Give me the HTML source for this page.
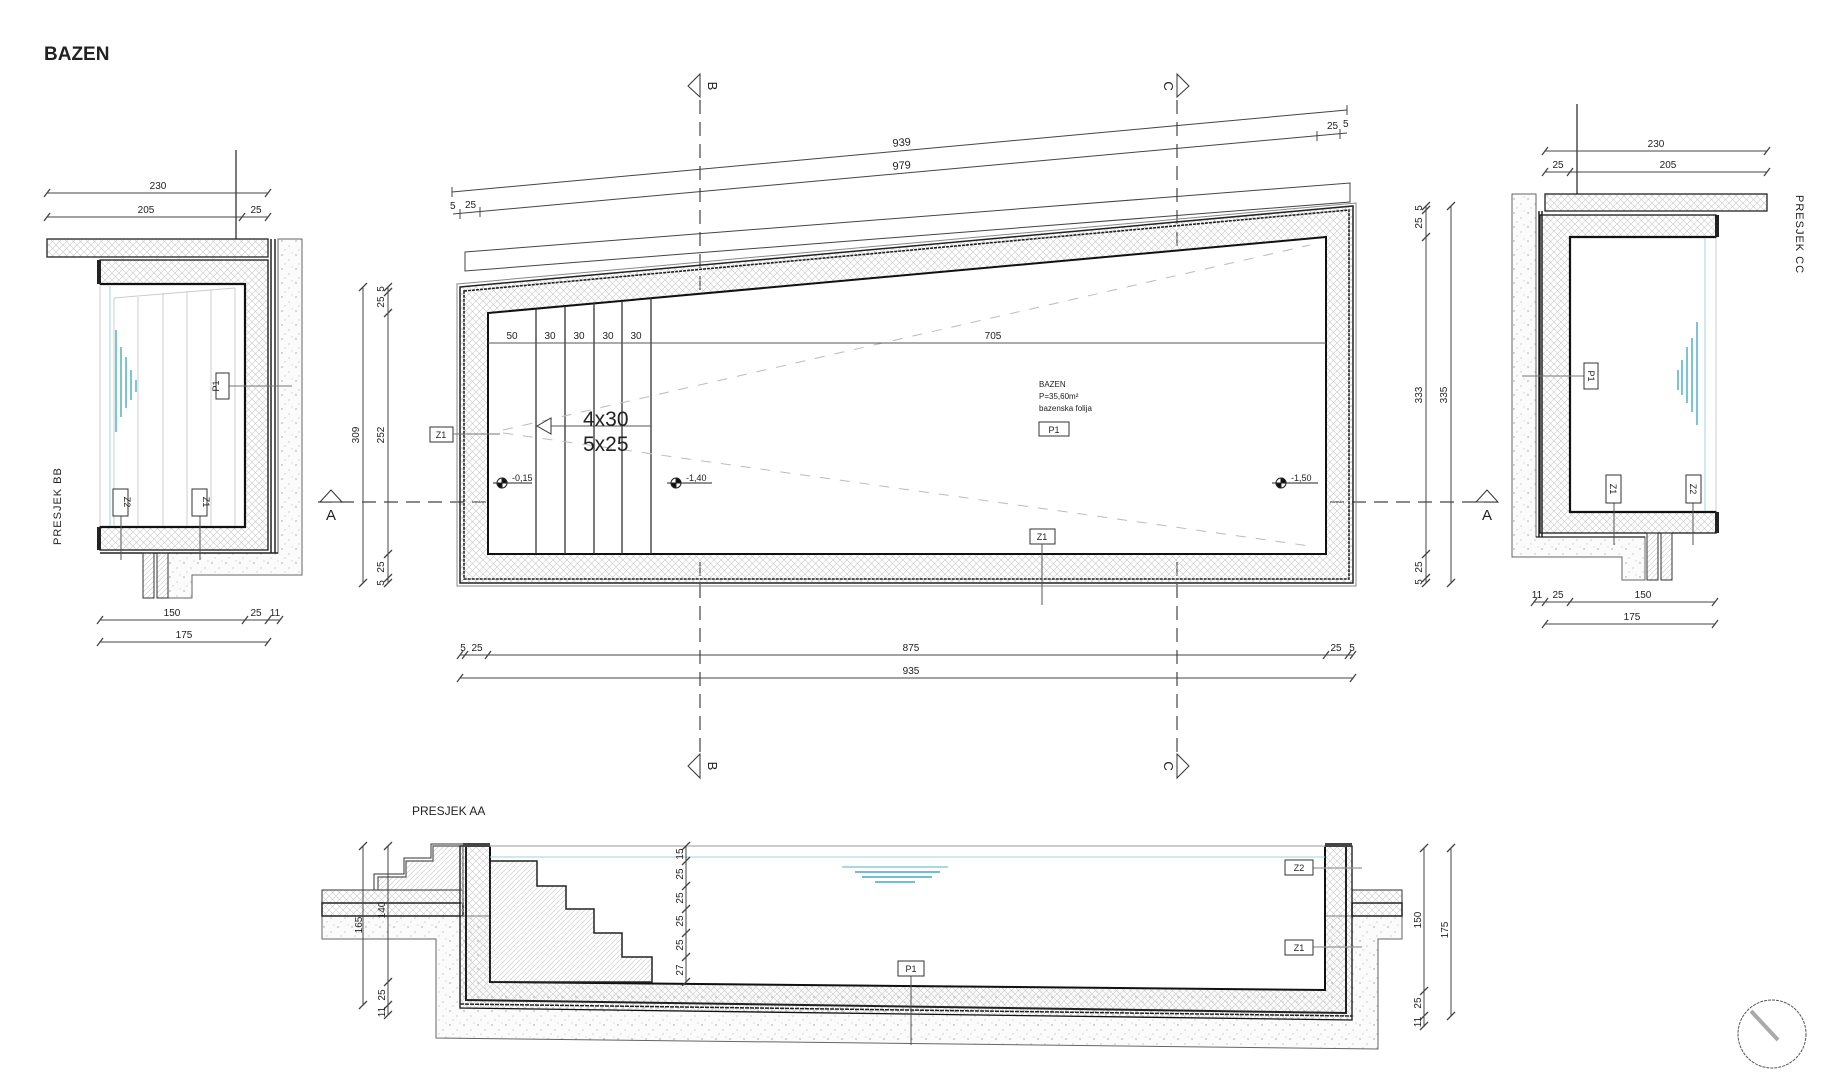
<!DOCTYPE html>
<html><head><meta charset="utf-8"><style>
html,body{margin:0;padding:0;background:#fff;}
svg{display:block;}
text{font-family:"Liberation Sans Narrow","Liberation Sans",sans-serif;fill:#222;}
</style></head><body>
<svg width="1824" height="1080" viewBox="0 0 1824 1080" xmlns="http://www.w3.org/2000/svg">
<defs>
<pattern id="xh" width="7" height="7" patternUnits="userSpaceOnUse"><path d="M0 0L7 7M7 0L0 7" stroke="#c8c8c8" stroke-width="0.6"/></pattern>
<pattern id="dg" width="5" height="5" patternUnits="userSpaceOnUse"><path d="M0 5L5 0" stroke="#c4c4c4" stroke-width="0.6"/></pattern>
<pattern id="dt" width="14" height="14" patternUnits="userSpaceOnUse"><rect width="14" height="14" fill="#fbfbfb"/><circle cx="2" cy="3" r="0.7" fill="#999"/><circle cx="9" cy="8" r="0.6" fill="#aaa"/><circle cx="5" cy="12" r="0.5" fill="#999"/><circle cx="12" cy="1" r="0.5" fill="#aaa"/></pattern>
</defs>

<text x="44" y="60" font-weight="bold" font-size="19" style="font-family:'Liberation Sans',sans-serif">BAZEN</text>

<!-- ===== SECTION LINES ===== -->
<g stroke="#444" stroke-width="1.2" fill="none" stroke-dasharray="14 8">
<line x1="700" y1="100" x2="700" y2="760"/>
<line x1="1177" y1="100" x2="1177" y2="760"/>
<line x1="318" y1="502" x2="1500" y2="502"/>
</g>
<g stroke="#333" stroke-width="1" fill="#fff">
<polygon points="688,86 700,74 700,97"/>
<polygon points="688,766 700,754 700,778"/>
<polygon points="1189,86 1177,74 1177,97"/>
<polygon points="1189,766 1177,754 1177,778"/>
<polygon points="320,502 331,490 342,502"/>
<polygon points="1476,502 1487,490 1498,502"/>
</g>
<text x="0" y="0" font-size="13" transform="translate(708,86) rotate(90)" text-anchor="middle" style="font-family:'Liberation Sans',sans-serif">B</text>
<text x="0" y="0" font-size="13" transform="translate(708,766) rotate(90)" text-anchor="middle" style="font-family:'Liberation Sans',sans-serif">B</text>
<text x="0" y="0" font-size="13" transform="translate(1164,86) rotate(90)" text-anchor="middle" style="font-family:'Liberation Sans',sans-serif">C</text>
<text x="0" y="0" font-size="13" transform="translate(1164,766) rotate(90)" text-anchor="middle" style="font-family:'Liberation Sans',sans-serif">C</text>
<text x="331" y="520" font-size="15" text-anchor="middle" style="font-family:'Liberation Sans',sans-serif">A</text>
<text x="1487" y="520" font-size="15" text-anchor="middle" style="font-family:'Liberation Sans',sans-serif">A</text>

<!-- ===== MAIN PLAN ===== -->
<g stroke="#444" stroke-width="1" fill="none">
<line x1="452" y1="192" x2="1347" y2="110"/>
<line x1="453" y1="214" x2="1347" y2="133"/>
<polygon points="465,252 1350,183 1350,202 465,271"/>
<line x1="452" y1="187" x2="452" y2="197"/>
<line x1="1347" y1="105" x2="1347" y2="115"/>
<line x1="460" y1="209" x2="460" y2="219"/><line x1="480" y1="207" x2="480" y2="217"/>
<line x1="1317" y1="131" x2="1317" y2="141"/><line x1="1340" y1="129" x2="1340" y2="139"/>
</g>
<text font-size="11" transform="translate(902,146) rotate(-5.2)" text-anchor="middle">939</text>
<text font-size="11" transform="translate(902,169) rotate(-5.2)" text-anchor="middle">979</text>
<text font-size="10" x="450" y="209">5</text><text font-size="10" x="465" y="208">25</text>
<text font-size="10" x="1327" y="129">25</text><text font-size="10" x="1343" y="127">5</text>

<polygon points="457,284 1356,203 1356,586 457,586" fill="none" stroke="#888" stroke-width="1"/>
<polygon points="460,287 1353,206 1353,583 460,583" fill="url(#xh)" stroke="#222" stroke-width="1.5"/>
<polygon points="464,291 1349,210 1349,579 464,579" fill="none" stroke="#222" stroke-width="1.6" stroke-dasharray="3 1"/>
<polygon points="488,313 1326,237 1326,554 488,554" fill="#fff" stroke="#111" stroke-width="2"/>
<g stroke="#333" stroke-width="1.3">
<line x1="536" y1="309" x2="536" y2="554"/>
<line x1="565" y1="306" x2="565" y2="554"/>
<line x1="594" y1="303" x2="594" y2="554"/>
<line x1="622" y1="301" x2="622" y2="554"/>
<line x1="651" y1="298" x2="651" y2="554"/>
</g>
<g stroke="#bbb" stroke-width="1" stroke-dasharray="10 10" fill="none">
<line x1="503" y1="430" x2="1310" y2="245"/>
<line x1="503" y1="433" x2="1310" y2="546"/>
</g>
<line x1="488" y1="343" x2="1326" y2="343" stroke="#555" stroke-width="1"/>
<g font-size="10" text-anchor="middle">
<text x="512" y="339">50</text><text x="550" y="339">30</text><text x="579" y="339">30</text><text x="608" y="339">30</text><text x="636" y="339">30</text><text x="993" y="339">705</text>
</g>
<polygon points="537,426 551,418 551,434" fill="#fff" stroke="#333" stroke-width="1"/>
<line x1="551" y1="426" x2="651" y2="426" stroke="#555"/>
<text x="583" y="426" font-size="21" style="font-family:'Liberation Sans',sans-serif">4x30</text>
<text x="583" y="451" font-size="21" style="font-family:'Liberation Sans',sans-serif">5x25</text>
<rect x="430" y="427" width="23" height="15" fill="#fff" stroke="#333"/>
<text x="441" y="438" font-size="9" text-anchor="middle">Z1</text>
<line x1="453" y1="434" x2="500" y2="434" stroke="#777"/>
<g stroke="#222" stroke-width="1">
<line x1="493" y1="483" x2="532" y2="483"/><circle cx="502" cy="483" r="5" fill="#fff"/><path d="M502 478A5 5 0 0 1 507 483L502 483Z M502 488A5 5 0 0 1 497 483L502 483Z" fill="#111"/>
<line x1="667" y1="483" x2="712" y2="483"/><circle cx="676" cy="483" r="5" fill="#fff"/><path d="M676 478A5 5 0 0 1 681 483L676 483Z M676 488A5 5 0 0 1 671 483L676 483Z" fill="#111"/>
<line x1="1272" y1="483" x2="1318" y2="483"/><circle cx="1281" cy="483" r="5" fill="#fff"/><path d="M1281 478A5 5 0 0 1 1286 483L1281 483Z M1281 488A5 5 0 0 1 1276 483L1281 483Z" fill="#111"/>
</g>
<text x="512" y="481" font-size="9">-0,15</text>
<text x="686" y="481" font-size="9">-1,40</text>
<text x="1291" y="481" font-size="9">-1,50</text>
<text x="1039" y="387" font-size="8">BAZEN</text>
<text x="1039" y="399" font-size="8">P=35,60m²</text>
<text x="1039" y="411" font-size="8">bazenska folija</text>
<rect x="1039" y="422" width="30" height="14" fill="#fff" stroke="#333"/>
<text x="1054" y="433" font-size="9" text-anchor="middle">P1</text>
<rect x="1030" y="529" width="25" height="15" fill="#fff" stroke="#333"/>
<text x="1042" y="540" font-size="9" text-anchor="middle">Z1</text>
<line x1="1042" y1="544" x2="1042" y2="605" stroke="#555"/>

<!-- main dims -->
<g stroke="#444" stroke-width="1">
<line x1="460" y1="655" x2="1353" y2="655"/>
<line x1="460" y1="678" x2="1353" y2="678"/>
<line x1="363" y1="287" x2="363" y2="583"/>
<line x1="388" y1="287" x2="388" y2="583"/>
<line x1="1426" y1="206" x2="1426" y2="583"/>
<line x1="1451" y1="206" x2="1451" y2="583"/>
<g stroke-width="1.3">
<path d="M457 659l6-8M462 659l6-8M485 659l6-8M1323 659l6-8M1345 659l6-8M1350 659l6-8M457 682l6-8M1350 682l6-8"/>
<path d="M359 291l8-8M359 587l8-8M384 291l8-8M384 296l8-8M384 317l8-8M384 558l8-8M384 582l8-8M384 587l8-8"/>
<path d="M1422 210l8-8M1422 214l8-8M1422 241l8-8M1422 558l8-8M1422 582l8-8M1422 587l8-8M1447 210l8-8M1447 587l8-8"/>
</g>
</g>
<g font-size="10" text-anchor="middle">
<text x="911" y="651">875</text><text x="911" y="674">935</text>
<text x="463" y="651">5</text><text x="477" y="651">25</text>
<text x="1336" y="651">25</text><text x="1352" y="651">5</text>
<text transform="translate(359,435) rotate(-90)">309</text>
<text transform="translate(384,435) rotate(-90)">252</text>
<text transform="translate(384,302) rotate(-90)">25</text>
<text transform="translate(384,289) rotate(-90)">5</text>
<text transform="translate(384,567) rotate(-90)">25</text>
<text transform="translate(384,583) rotate(-90)">5</text>
<text transform="translate(1422,395) rotate(-90)">333</text>
<text transform="translate(1447,395) rotate(-90)">335</text>
<text transform="translate(1422,223) rotate(-90)">25</text>
<text transform="translate(1422,208) rotate(-90)">5</text>
<text transform="translate(1422,567) rotate(-90)">25</text>
<text transform="translate(1422,582) rotate(-90)">5</text>
</g>

<!-- ===== SECTION BB (left) ===== -->
<polygon points="278,239 302,239 302,575 192,575 192,598 168,598 168,553 278,553" fill="url(#dt)" stroke="#666" stroke-width="1"/>
<rect x="47" y="239" width="221" height="18" fill="url(#xh)" stroke="#222" stroke-width="1.3"/>
<polygon points="100,260 268,260 268,550 100,550 100,527 245,527 245,284 100,284" fill="url(#xh)" stroke="#111" stroke-width="1.3"/>
<polyline points="100,284 245,284 245,527 100,527" fill="none" stroke="#111" stroke-width="2.2"/>
<line x1="271" y1="239" x2="271" y2="553" stroke="#222" stroke-width="1.5"/>
<line x1="275" y1="239" x2="275" y2="553" stroke="#222" stroke-width="1.5"/>
<line x1="100" y1="553" x2="278" y2="553" stroke="#222" stroke-width="1.5"/>
<rect x="97" y="260" width="4" height="24" fill="#222"/><rect x="97" y="527" width="4" height="23" fill="#222"/>
<g stroke="#ccc" stroke-width="1">
<line x1="100" y1="286" x2="100" y2="526"/>
<line x1="114" y1="298" x2="114" y2="526"/><line x1="138" y1="297" x2="138" y2="526"/><line x1="163" y1="293" x2="163" y2="526"/><line x1="187" y1="291" x2="187" y2="526"/><line x1="211" y1="290" x2="211" y2="526"/><line x1="235" y1="288" x2="235" y2="526"/>
<line x1="114" y1="298" x2="235" y2="288"/>
</g>
<line x1="110" y1="286" x2="110" y2="526" stroke="#9cd3df" stroke-width="1"/>
<g stroke="#5fb5cc" stroke-width="1.6">
<line x1="116" y1="330" x2="116" y2="432"/><line x1="121" y1="347" x2="121" y2="417"/><line x1="126" y1="357" x2="126" y2="408"/><line x1="131" y1="370" x2="131" y2="400"/><line x1="136" y1="380" x2="136" y2="392"/>
</g>
<g fill="url(#dg)" stroke="#333" stroke-width="1"><rect x="143" y="553" width="11" height="45"/><rect x="157" y="553" width="11" height="45"/></g>
<line x1="236" y1="150" x2="236" y2="239" stroke="#222" stroke-width="1.2"/>
<line x1="229" y1="386" x2="292" y2="386" stroke="#777"/>
<rect x="216" y="373" width="13" height="26" fill="#fff" stroke="#333"/>
<text transform="translate(219,386) rotate(-90)" font-size="9" text-anchor="middle">P1</text>
<line x1="121" y1="516" x2="121" y2="560" stroke="#555"/><line x1="200" y1="516" x2="200" y2="560" stroke="#555"/>
<rect x="113" y="489" width="15" height="27" fill="#fff" stroke="#333"/>
<text transform="translate(124,502) rotate(90)" font-size="9" text-anchor="middle">Z2</text>
<rect x="192" y="489" width="15" height="27" fill="#fff" stroke="#333"/>
<text transform="translate(203,502) rotate(90)" font-size="9" text-anchor="middle">Z1</text>
<text transform="translate(61,545) rotate(-90)" font-size="11" letter-spacing="1" style="font-family:'Liberation Sans',sans-serif">PRESJEK BB</text>
<g stroke="#444" stroke-width="1">
<line x1="47" y1="193" x2="268" y2="193"/><line x1="47" y1="217" x2="268" y2="217"/>
<line x1="100" y1="620" x2="280" y2="620"/><line x1="100" y1="642" x2="268" y2="642"/>
<path stroke-width="1.3" d="M44 197l6-8M265 197l6-8M44 221l6-8M239 221l6-8M265 221l6-8M97 624l6-8M242 624l6-8M265 624l6-8M277 624l6-8M97 646l6-8M265 646l6-8"/>
</g>
<g font-size="10" text-anchor="middle">
<text x="158" y="189">230</text><text x="146" y="213">205</text><text x="256" y="213">25</text>
<text x="172" y="616">150</text><text x="256" y="616">25</text><text x="275" y="616">11</text><text x="184" y="638">175</text>
</g>

<!-- ===== SECTION CC (right) ===== -->
<polygon points="1512,194 1536,194 1536,537 1645,537 1645,580 1622,580 1622,557 1512,557" fill="url(#dt)" stroke="#666" stroke-width="1"/>
<rect x="1545" y="194" width="222" height="17" fill="url(#xh)" stroke="#222" stroke-width="1.3"/>
<polygon points="1716,215 1540,215 1540,533 1716,533 1716,512 1570,512 1570,237 1716,237" fill="url(#xh)" stroke="#111" stroke-width="1.3"/>
<polyline points="1716,237 1570,237 1570,512 1716,512" fill="none" stroke="#111" stroke-width="2.2"/>
<line x1="1539" y1="211" x2="1539" y2="537" stroke="#222" stroke-width="1.5"/>
<line x1="1542" y1="211" x2="1542" y2="537" stroke="#222" stroke-width="1.5"/>
<line x1="1536" y1="537" x2="1645" y2="537" stroke="#222" stroke-width="1.3"/>
<rect x="1715" y="215" width="4" height="22" fill="#222"/><rect x="1715" y="512" width="4" height="21" fill="#222"/>
<line x1="1716" y1="238" x2="1716" y2="511" stroke="#ccc"/>
<line x1="1705" y1="238" x2="1705" y2="511" stroke="#9cd3df"/>
<g stroke="#5fb5cc" stroke-width="1.6">
<line x1="1697" y1="322" x2="1697" y2="425"/><line x1="1692" y1="338" x2="1692" y2="412"/><line x1="1687" y1="347" x2="1687" y2="403"/><line x1="1682" y1="360" x2="1682" y2="395"/><line x1="1678" y1="370" x2="1678" y2="390"/>
</g>
<g fill="url(#dg)" stroke="#333" stroke-width="1"><rect x="1647" y="533" width="11" height="47"/><rect x="1661" y="533" width="11" height="47"/></g>
<line x1="1577" y1="104" x2="1577" y2="194" stroke="#222" stroke-width="1.2"/>
<line x1="1522" y1="376" x2="1584" y2="376" stroke="#777"/>
<rect x="1584" y="363" width="14" height="26" fill="#fff" stroke="#333"/>
<text transform="translate(1588,376) rotate(90)" font-size="9" text-anchor="middle">P1</text>
<line x1="1614" y1="503" x2="1614" y2="545" stroke="#555"/><line x1="1693" y1="503" x2="1693" y2="545" stroke="#555"/>
<rect x="1606" y="475" width="15" height="28" fill="#fff" stroke="#333"/>
<text transform="translate(1610,489) rotate(90)" font-size="9" text-anchor="middle">Z1</text>
<rect x="1686" y="475" width="15" height="28" fill="#fff" stroke="#333"/>
<text transform="translate(1690,489) rotate(90)" font-size="9" text-anchor="middle">Z2</text>
<text transform="translate(1796,195) rotate(90)" font-size="11" letter-spacing="1" style="font-family:'Liberation Sans',sans-serif">PRESJEK CC</text>
<g stroke="#444" stroke-width="1">
<line x1="1545" y1="151" x2="1767" y2="151"/><line x1="1545" y1="172" x2="1767" y2="172"/>
<line x1="1534" y1="602" x2="1715" y2="602"/><line x1="1545" y1="624" x2="1715" y2="624"/>
<path stroke-width="1.3" d="M1542 155l6-8M1764 155l6-8M1542 176l6-8M1567 176l6-8M1764 176l6-8M1531 606l6-8M1542 606l6-8M1567 606l6-8M1712 606l6-8M1542 628l6-8M1712 628l6-8"/>
</g>
<g font-size="10" text-anchor="middle">
<text x="1656" y="147">230</text><text x="1558" y="168">25</text><text x="1668" y="168">205</text>
<text x="1537" y="598">11</text><text x="1558" y="598">25</text><text x="1643" y="598">150</text><text x="1632" y="620">175</text>
</g>

<!-- ===== SECTION AA ===== -->
<text x="412" y="815" font-size="12" style="font-family:'Liberation Sans',sans-serif">PRESJEK AA</text>
<polygon points="322,916 1402,916 1402,939 1378,939 1378,1049 436,1038 436,939 322,939" fill="url(#dt)" stroke="#666" stroke-width="1"/>
<rect x="322" y="890" width="141" height="13" fill="url(#xh)" stroke="#333" stroke-width="1"/>
<rect x="322" y="903" width="141" height="13" fill="url(#xh)" stroke="#222" stroke-width="1.5"/>
<rect x="1352" y="890" width="50" height="13" fill="url(#xh)" stroke="#333" stroke-width="1"/>
<rect x="1352" y="903" width="50" height="13" fill="url(#xh)" stroke="#222" stroke-width="1.5"/>
<polygon points="378,890 378,877 406,877 406,861 433,861 433,846 463,846 463,890" fill="url(#dg)" stroke="#555" stroke-width="1.2"/>
<polyline points="322,890 374,890 374,874 404,874 404,858 431,858 431,844 463,844" fill="none" stroke="#333" stroke-width="1"/>
<polygon points="460,846 490,846 490,982 1325,990 1325,846 1352,846 1352,1020 460,1008" fill="url(#xh)" stroke="#111" stroke-width="1.3"/>
<polygon points="491,846 1324,846 1324,989 491,981" fill="#fff" stroke="none"/>
<polyline points="466,846 466,1000 1346,1013 1346,846" fill="none" stroke="#222" stroke-width="2"/>
<polyline points="460,1004 1352,1016" fill="none" stroke="#222" stroke-width="1.5" stroke-dasharray="4 1"/>
<polyline points="490,846 490,982 1325,990 1325,846" fill="none" stroke="#111" stroke-width="2"/>
<rect x="463" y="843" width="27" height="4" fill="#444"/><rect x="1325" y="843" width="27" height="4" fill="#444"/>
<polygon points="490,861 537,861 537,886 566,886 566,909 594,909 594,933 622,933 622,957 652,957 652,982 490,982" fill="url(#dg)" stroke="#222" stroke-width="1.5"/>
<line x1="490" y1="846" x2="1325" y2="846" stroke="#bbb" stroke-width="1.5"/>
<line x1="490" y1="857" x2="1325" y2="857" stroke="#9cd3df" stroke-width="1"/>
<g stroke="#5fb5cc" stroke-width="1.8">
<line x1="842" y1="867" x2="948" y2="867" stroke="#9cd3df"/><line x1="855" y1="872" x2="940" y2="872"/><line x1="862" y1="877" x2="932" y2="877"/><line x1="875" y1="882" x2="915" y2="882"/>
</g>
<line x1="911" y1="976" x2="911" y2="1045" stroke="#555"/>
<rect x="898" y="961" width="26" height="15" fill="#fff" stroke="#333"/>
<text x="911" y="972" font-size="9" text-anchor="middle">P1</text>
<line x1="1313" y1="868" x2="1362" y2="868" stroke="#999" stroke-width="1.3"/>
<line x1="1313" y1="947" x2="1362" y2="947" stroke="#999" stroke-width="1.3"/>
<rect x="1285" y="860" width="28" height="15" fill="#fff" stroke="#333"/>
<text x="1299" y="871" font-size="9" text-anchor="middle">Z2</text>
<rect x="1285" y="940" width="28" height="15" fill="#fff" stroke="#333"/>
<text x="1299" y="951" font-size="9" text-anchor="middle">Z1</text>
<g stroke="#444" stroke-width="1">
<line x1="363" y1="846" x2="363" y2="1005"/>
<line x1="388" y1="846" x2="388" y2="1015"/>
<line x1="686" y1="846" x2="686" y2="982"/>
<line x1="1424" y1="848" x2="1424" y2="1027"/>
<line x1="1451" y1="848" x2="1451" y2="1016"/>
<path stroke-width="1.3" d="M359 850l8-8M359 1009l8-8M384 850l8-8M384 986l8-8M384 1009l8-8M384 1019l8-8M682 850l8-8M682 865l8-8M682 890l8-8M682 913l8-8M682 937l8-8M682 961l8-8M682 986l8-8M1420 852l8-8M1420 995l8-8M1420 1020l8-8M1420 1030l8-8M1447 852l8-8M1447 1020l8-8"/>
</g>
<g font-size="10" text-anchor="middle">
<text transform="translate(362,925) rotate(-90)">165</text>
<text transform="translate(385,910) rotate(-90)">140</text>
<text transform="translate(385,995) rotate(-90)">25</text>
<text transform="translate(385,1012) rotate(-90)">11</text>
<text transform="translate(683,854) rotate(-90)">15</text>
<text transform="translate(683,874) rotate(-90)">25</text>
<text transform="translate(683,898) rotate(-90)">25</text>
<text transform="translate(683,921) rotate(-90)">25</text>
<text transform="translate(683,945) rotate(-90)">25</text>
<text transform="translate(683,970) rotate(-90)">27</text>
<text transform="translate(1421,920) rotate(-90)">150</text>
<text transform="translate(1448,930) rotate(-90)">175</text>
<text transform="translate(1421,1003) rotate(-90)">25</text>
<text transform="translate(1421,1022) rotate(-90)">11</text>
</g>

<!-- north circle -->
<ellipse cx="1772" cy="1034" rx="34" ry="34" fill="none" stroke="#555" stroke-width="1" stroke-dasharray="3 1"/>
<line x1="1751" y1="1011" x2="1778" y2="1040" stroke="#aaa" stroke-width="4"/>
</svg>
</body></html>
